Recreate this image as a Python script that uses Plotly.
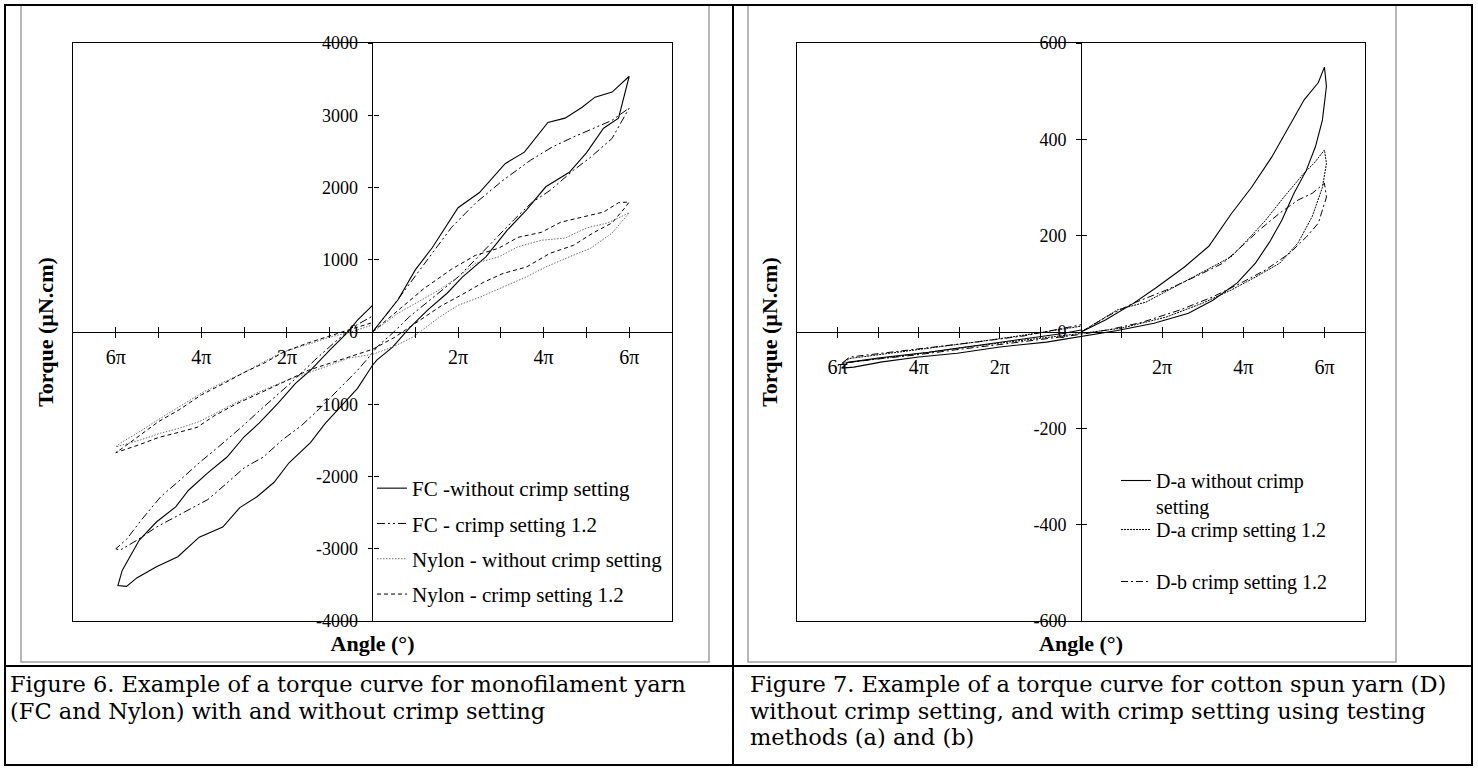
import plotly.graph_objects as go

W, H = 1478, 768
SERIF = "Liberation Serif, Times New Roman, serif"
CAPTION_FONT = "DejaVu Serif, Liberation Serif, serif"

# ---------------- Figure 6: monofilament yarns ----------------
# angle in multiples of pi, torque in µN.cm; each loop: 0 -> +6pi -> -6pi -> 0
fc_plain_angle = [0, 0.3, 0.6, 1.0, 1.4, 2.0, 2.5, 3.1, 3.55, 4.1, 4.5, 4.9, 5.2, 5.6, 6.0,
                  5.75, 5.4, 5.0, 4.6, 4.05, 3.6, 3.15, 2.65, 2.1, 1.75, 1.3, 0.86, 0.47, 0.1, 0,
                  -0.35, -0.77, -1.1, -1.45, -1.95, -2.3, -2.7, -3.1, -3.5, -4.05, -4.55, -5.05,
                  -5.5, -5.75, -5.95,
                  -5.85, -5.45, -5.05, -4.6, -4.3, -3.85, -3.4, -3.0, -2.65, -2.2, -1.8, -1.45,
                  -1.0, -0.6, -0.35, 0]
fc_plain_torque = [0, 230, 450, 860, 1170, 1720, 1930, 2330, 2490, 2900, 2960, 3110, 3250, 3320, 3540,
                   2960, 2820, 2480, 2210, 2010, 1690, 1410, 1040, 760, 540, 310, 55, -210, -390, -460,
                   -780, -1050, -1260, -1530, -1810, -2080, -2280, -2430, -2700, -2840, -3110, -3250,
                   -3400, -3520, -3510,
                   -3300, -2880, -2630, -2420, -2190, -1950, -1730, -1450, -1260, -980, -710, -530,
                   -250, -15, 165, 370]

fc_crimp_angle = [0, 0.3, 0.63, 1.1, 1.4, 1.85, 2.4, 3.05, 3.7, 4.2, 4.7, 5.15, 5.6, 6.0,
                  5.6, 5.1, 4.7, 4.15, 3.7, 3.3, 2.85, 2.4, 2.0, 1.4, 0.86, 0.47, 0.1, 0,
                  -0.35, -0.77, -1.2, -1.65, -2.1, -2.55, -3.0, -3.4, -3.85, -4.2, -4.6, -5.05,
                  -5.5, -5.9, -6.0,
                  -5.75, -5.4, -4.95, -4.5, -4.05, -3.6, -3.05, -2.55, -1.9, -1.35, -0.9, -0.45, 0]
fc_crimp_torque = [0, 220, 480, 860, 1090, 1450, 1780, 2100, 2380, 2560, 2700, 2820, 2930, 3100,
                   2680, 2420, 2240, 1960, 1780, 1550, 1270, 1000, 760, 470, 210, -15, -210, -290,
                   -530, -780, -1040, -1290, -1490, -1730, -1880, -2090, -2320, -2430, -2560, -2700,
                   -2880, -3020, -3000,
                   -2870, -2600, -2280, -2050, -1810, -1590, -1310, -1040, -700, -390, -150, 70, 220]

nylon_plain_angle = [0, 0.6, 1.55, 2.0, 2.4, 2.95, 3.4, 3.95, 4.5, 5.0, 5.5, 6.0,
                     5.6, 5.1, 4.6, 4.05, 3.55, 3.05, 2.5, 2.0, 1.55, 0.95, 0.5, 0,
                     -0.55, -1.0, -1.55, -2.1, -2.65, -3.2, -3.65, -4.05, -4.5, -4.95, -5.4, -5.8, -6.0,
                     -5.9, -5.5, -5.0, -4.5, -3.95, -3.5, -3.0, -2.5, -2.1, -1.5, -1.0, -0.5, 0]
nylon_plain_torque = [0, 260, 580, 760, 950, 1040, 1180, 1270, 1300, 1440, 1510, 1650,
                      1370, 1160, 1040, 900, 750, 620, 480, 370, 200, -70, -200, -310,
                      -360, -460, -570, -690, -830, -980, -1120, -1240, -1330, -1400, -1490, -1560, -1590,
                      -1540, -1400, -1210, -1030, -830, -700, -560, -400, -280, -170, -70, 0, 100]

nylon_crimp_angle = [0, 0.6, 1.2, 1.85, 2.4, 2.95, 3.4, 3.95, 4.4, 4.9, 5.4, 5.75, 6.0,
                     5.9, 5.6, 5.15, 4.7, 4.15, 3.6, 3.05, 2.6, 2.1, 1.6, 1.0, 0.5, 0,
                     -0.5, -1.0, -1.5, -2.1, -2.65, -3.2, -3.7, -4.1, -4.6, -5.0, -5.45, -5.85, -6.0,
                     -5.85, -5.5, -5.0, -4.5, -4.0, -3.5, -3.0, -2.5, -2.05, -1.5, -1.0, -0.5, 0]
nylon_crimp_torque = [0, 300, 600, 870, 1060, 1160, 1310, 1380, 1520, 1590, 1660, 1790, 1800,
                      1720, 1510, 1370, 1200, 1090, 900, 810, 690, 520, 360, 120, -80, -240,
                      -340, -430, -530, -700, -850, -1000, -1160, -1320, -1400, -1460, -1560, -1640, -1670,
                      -1610, -1460, -1240, -1070, -870, -720, -560, -420, -270, -150, -50, 40, 130]

# ---------------- Figure 7: cotton spun yarn D ----------------
da_plain_angle = [0, 0.6, 1.3, 1.85, 2.55, 3.15, 3.7, 4.2, 4.7, 5.15, 5.5, 5.85, 6.0,
                  6.05, 5.95, 5.78, 5.55, 5.25, 4.95, 4.65, 4.3, 3.85, 3.25, 2.65, 1.8, 0.9, 0,
                  -0.85, -2.0, -3.05, -4.0, -4.9, -5.6, -5.9,
                  -5.75, -4.9, -3.75, -2.55, -1.4, -0.45, 0]
da_plain_torque = [0, 25, 60, 92, 135, 178, 245, 300, 363, 430, 482, 518, 550,
                   510, 440, 385, 335, 288, 232, 187, 143, 102, 66, 39, 18, 3, -10,
                   -21, -31, -44, -52, -62, -73, -75,
                   -63, -53, -42, -28, -14, -3, 4]

da_crimp_angle = [0, 0.9, 1.6, 2.3, 3.0, 3.7, 4.1, 4.55, 5.0, 5.5, 5.75, 6.0,
                  6.05, 5.95, 5.7, 5.35, 4.9, 4.3, 3.7, 3.0, 2.1, 1.0, 0,
                  -1.0, -2.0, -3.0, -4.0, -5.0, -5.9,
                  -5.7, -4.8, -3.8, -2.7, -1.6, -0.6, 0]
da_crimp_torque = [0, 46, 62, 93, 125, 156, 191, 232, 280, 330, 351, 378,
                   350, 300, 240, 185, 143, 114, 87, 60, 31, 8, -3,
                   -13, -23, -33, -45, -55, -65,
                   -55, -45, -35, -22, -9, 5, 12]

db_crimp_angle = [0, 0.7, 1.3, 2.1, 2.8, 3.5, 3.95, 4.4, 4.9, 5.35, 5.7, 6.0,
                  6.05, 5.85, 5.55, 5.15, 4.55, 3.95, 3.25, 2.45, 1.5, 0.7, 0,
                  -1.0, -2.0, -3.0, -4.0, -5.0, -5.9,
                  -5.7, -4.7, -3.6, -2.5, -1.4, -0.5, 0]
db_crimp_torque = [0, 35, 60, 87, 114, 143, 177, 212, 247, 274, 288, 309,
                   280, 226, 197, 164, 129, 102, 73, 46, 20, 5, -5,
                   -16, -26, -36, -47, -56, -65,
                   -52, -42, -32, -20, -8, 6, 15]

# ---------------- axis ticks ----------------
angle_ticks = [-6, -5, -4, -3, -2, -1, 1, 2, 3, 4, 5, 6]
angle_tick_text = ["6π", "", "4π", "", "2π", "", "", "2π", "", "4π", "", "6π"]
fig6_torque_ticks = [-4000, -3000, -2000, -1000, 0, 1000, 2000, 3000, 4000]
fig7_torque_ticks = [-600, -400, -200, 0, 200, 400, 600]

caption6 = ["Figure 6. Example of a torque curve for monofilament yarn",
            "(FC and Nylon) with and without crimp setting"]
caption7 = ["Figure 7. Example of a torque curve for cotton spun yarn (D)",
            "without crimp setting, and with crimp setting using testing",
            "methods (a) and (b)"]

# ---------------- page geometry (pixels) ----------------
PLOT_TOP, PLOT_BOTTOM, ZERO_Y = 43, 621, 332
LEFT_X0, LEFT_X1 = 73, 672
RIGHT_X0, RIGHT_X1 = 797, 1365


def px(x):
    return x / W


def py(y):
    return 1 - y / H


def hy(v):
    return [("-" + f"{abs(t)}") if t < 0 else f"{t}" for t in v]


fig = go.Figure()

DASHDOT2 = "8px,3px,2px,3px,2px,3px"
series6 = [
    ("FC -without crimp setting", fc_plain_angle, fc_plain_torque, dict(color="black", width=1.1)),
    ("FC - crimp setting 1.2", fc_crimp_angle, fc_crimp_torque, dict(color="black", width=1, dash=DASHDOT2)),
    ("Nylon - without crimp setting", nylon_plain_angle, nylon_plain_torque,
     dict(color="#6e6e6e", width=1, dash="1.5px,1.5px")),
    ("Nylon - crimp setting 1.2", nylon_crimp_angle, nylon_crimp_torque,
     dict(color="black", width=1, dash="4px,3px")),
]
for i, (name, ang, tq, line) in enumerate(series6):
    fig.add_trace(go.Scatter(x=ang, y=tq, mode="lines", name=name, line=line,
                             xaxis="x", yaxis="y", legend="legend", legendgroup=f"f6_{i}",
                             hoverinfo="skip"))

series7 = [
    ("D-a without crimp<br>setting", da_plain_angle, da_plain_torque, dict(color="black", width=1.1), "legend2"),
    ("D-a crimp setting 1.2", da_crimp_angle, da_crimp_torque, dict(color="black", width=1, dash="2px,1px"), "legend3"),
    ("D-b crimp setting 1.2", db_crimp_angle, db_crimp_torque,
     dict(color="black", width=1, dash="7px,3px,2px,3px"), "legend4"),
]
for name, ang, tq, line, lg in series7:
    fig.add_trace(go.Scatter(x=ang, y=tq, mode="lines", name=name, line=line,
                             xaxis="x4", yaxis="y4", legend=lg, hoverinfo="skip"))

# empty traces so the overlaid tick axes belong to a subplot
for xa, ya in [("x2", "y"), ("x3", "y"), ("x", "y2"), ("x", "y3"),
               ("x5", "y4"), ("x6", "y4"), ("x4", "y5"), ("x4", "y6")]:
    fig.add_trace(go.Scatter(x=[None], y=[None], xaxis=xa, yaxis=ya, showlegend=False,
                             hoverinfo="skip", mode="lines"))

tick_font_y = dict(family=SERIF, size=18, color="black")
tick_font_x = dict(family=SERIF, size=20, color="black")
title_font = dict(family=SERIF, size=22, color="black", weight="bold")


def frame_x(x0, x1, anchor):
    return dict(domain=[px(x0), px(x1)], range=[-7, 7], anchor=anchor, showline=True, mirror=True,
                linecolor="black", linewidth=1, ticks="", showticklabels=False, showgrid=False,
                zeroline=True, zerolinecolor="black", zerolinewidth=1, fixedrange=True,
                automargin=False, title=dict(text="Angle (°)", font=title_font, standoff=14))


def frame_y(rng, anchor):
    return dict(domain=[py(PLOT_BOTTOM), py(PLOT_TOP)], range=rng, anchor=anchor, showline=True,
                mirror=True, linecolor="black", linewidth=1, ticks="", showticklabels=False,
                showgrid=False, zeroline=True, zerolinecolor="black", zerolinewidth=1,
                fixedrange=True, automargin=False,
                title=dict(text="Torque (µN.cm)", font=title_font, standoff=12))


def tick_x(over, direction, labels, standoff):
    d = dict(overlaying=over, anchor="free", position=py(ZERO_Y), side="bottom", range=[-7, 7],
             tickmode="array", tickvals=angle_ticks, ticktext=angle_tick_text, ticks=direction,
             ticklen=5, tickwidth=1, tickcolor="black", showline=False, showgrid=False,
             zeroline=False, showticklabels=labels, tickfont=tick_font_x, fixedrange=True,
             automargin=False)
    if labels:
        d["ticklabelstandoff"] = standoff
    return d


def tick_y(over, xpos, rng, vals, direction, labels):
    return dict(overlaying=over, anchor="free", position=px(xpos), side="left", range=rng,
                tickmode="array", tickvals=vals, ticktext=hy(vals), ticks=direction, ticklen=5,
                tickwidth=1, tickcolor="black", showline=False, showgrid=False, zeroline=False,
                showticklabels=labels, tickfont=tick_font_y, fixedrange=True, automargin=False,
                ticklabelstandoff=6 if labels else 0)


left_mid = (LEFT_X0 + LEFT_X1) / 2
right_mid = (RIGHT_X0 + RIGHT_X1) / 2

fig.update_layout(
    xaxis=frame_x(LEFT_X0, LEFT_X1, "y"),
    yaxis=frame_y([-4000, 4000], "x"),
    xaxis2=tick_x("x", "outside", True, 2),
    xaxis3=tick_x("x", "inside", False, 0),
    yaxis2=tick_y("y", left_mid, [-4000, 4000], fig6_torque_ticks, "outside", True),
    yaxis3=tick_y("y", left_mid, [-4000, 4000], fig6_torque_ticks, "inside", False),
    xaxis4=frame_x(RIGHT_X0, RIGHT_X1, "y4"),
    yaxis4=frame_y([-600, 600], "x4"),
    xaxis5=tick_x("x4", "outside", True, 12),
    xaxis6=tick_x("x4", "inside", False, 0),
    yaxis5=tick_y("y4", right_mid, [-600, 600], fig7_torque_ticks, "outside", True),
    yaxis6=tick_y("y4", right_mid, [-600, 600], fig7_torque_ticks, "inside", False),
)

legend_common = dict(xanchor="left", yanchor="top", bgcolor="rgba(0,0,0,0)", borderwidth=0,
                     itemclick=False, itemdoubleclick=False)
fig7_legend_font = dict(family=SERIF, size=20, color="black")
fig.update_layout(
    legend=dict(x=px(372), y=py(468), font=dict(family=SERIF, size=21, color="black"),
                tracegroupgap=5, traceorder="grouped", **legend_common),
    legend2=dict(x=px(1116), y=py(461), font=fig7_legend_font, valign="top", **legend_common),
    legend3=dict(x=px(1116), y=py(510), font=fig7_legend_font, **legend_common),
    legend4=dict(x=px(1116), y=py(562), font=fig7_legend_font, **legend_common),
)

# table ruling and the borders of the two chart panels
shapes = []


def rect(x0, y0, x1, y1, color, width):
    shapes.append(dict(type="rect", xref="paper", yref="paper", x0=px(x0), x1=px(x1),
                       y0=py(y1), y1=py(y0), line=dict(color=color, width=width),
                       fillcolor="rgba(0,0,0,0)", layer="above"))


def seg(x0, y0, x1, y1, color, width):
    shapes.append(dict(type="line", xref="paper", yref="paper", x0=px(x0), x1=px(x1),
                       y0=py(y0), y1=py(y1), line=dict(color=color, width=width), layer="above"))


rect(21, 5, 709, 662, "#a0a0a0", 1.5)
rect(748, 5, 1396, 662, "#a0a0a0", 1.5)
rect(5, 5, 1472, 765, "black", 2)
seg(733, 5, 733, 765, "black", 2)
seg(5, 666, 1472, 666, "black", 2)

caption_font = dict(family=CAPTION_FONT, size=22.5, color="black")
annotations = []
for i, line in enumerate(caption6):
    annotations.append(dict(text=line, xref="paper", yref="paper", x=px(8), y=py(684 + 26.5 * i),
                            xanchor="left", yanchor="middle", showarrow=False, font=caption_font))
for i, line in enumerate(caption7):
    annotations.append(dict(text=line, xref="paper", yref="paper", x=px(748), y=py(684 + 26.5 * i),
                            xanchor="left", yanchor="middle", showarrow=False, font=caption_font))

fig.update_layout(
    width=W, height=H, autosize=False,
    margin=dict(l=0, r=0, t=0, b=0, pad=0),
    paper_bgcolor="white", plot_bgcolor="white",
    showlegend=True, shapes=shapes, annotations=annotations,
)

fig.write_html("out.html", config=dict(displayModeBar=False))
